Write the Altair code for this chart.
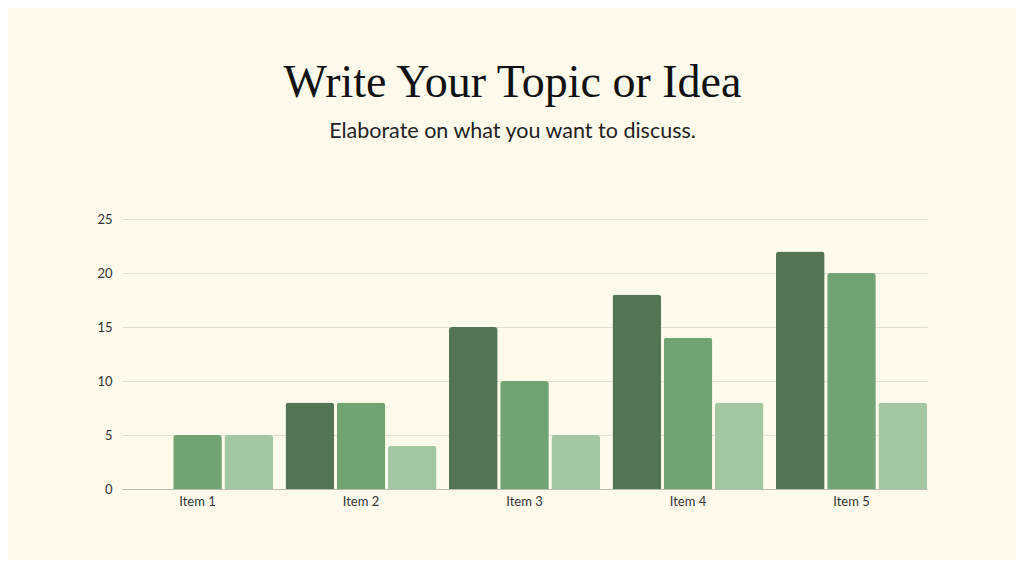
import altair as alt
import pandas as pd

items = ["Item 1", "Item 2", "Item 3", "Item 4", "Item 5"]
series = ["Series 1", "Series 2", "Series 3"]
s1 = [0, 8, 15, 18, 22]
s2 = [5, 8, 10, 14, 20]
s3 = [5, 4, 5, 8, 8]
colors = ["#537556", "#72A372", "#A3C8A1"]

rows = []
for name, vals in zip(series, [s1, s2, s3]):
    for it, v in zip(items, vals):
        rows.append({"item": it, "series": name, "value": v})
df = pd.DataFrame(rows)

bars = alt.Chart(df).mark_bar(cornerRadiusTopLeft=3, cornerRadiusTopRight=3).encode(
    x=alt.X("item:N", sort=items, title=None,
            scale=alt.Scale(paddingInner=0.076, paddingOuter=0),
            axis=alt.Axis(labelAngle=0, labelFont="Lato", labelFontSize=13,
                          labelColor="#333333", ticks=False, domainColor="#BDBAB0",
                          labelPadding=6)),
    xOffset=alt.XOffset("series:N", sort=series, scale=alt.Scale(paddingInner=0.05)),
    y=alt.Y("value:Q", title=None, scale=alt.Scale(domain=[0, 25]),
            axis=alt.Axis(values=[0, 5, 10, 15, 20, 25], labelFont="Lato", labelFontSize=13,
                          labelColor="#333333", ticks=False, domain=False,
                          gridColor="#E2DED0", labelPadding=10)),
    color=alt.Color("series:N", sort=series, legend=None,
                    scale=alt.Scale(domain=series, range=colors)),
)

chart = bars.properties(
    width=805, height=270,
    padding={"left": 114, "top": 211, "right": 89, "bottom": 71},
    autosize=alt.AutoSizeParams(type="none"),
    background="#FEFAEC",
    title=alt.TitleParams(
        text="Write Your Topic or Idea",
        subtitle="Elaborate on what you want to discuss.",
        font="Liberation Serif", fontSize=46, fontWeight="normal", color="#111111",
        subtitleFont="Lato", subtitleFontSize=21.5, subtitleColor="#222222",
        subtitlePadding=14, anchor="middle", dx=-12, offset=70,
    ),
).configure_view(stroke=None)

chart.save("out.html", embed_options={"renderer": "svg", "actions": False})
